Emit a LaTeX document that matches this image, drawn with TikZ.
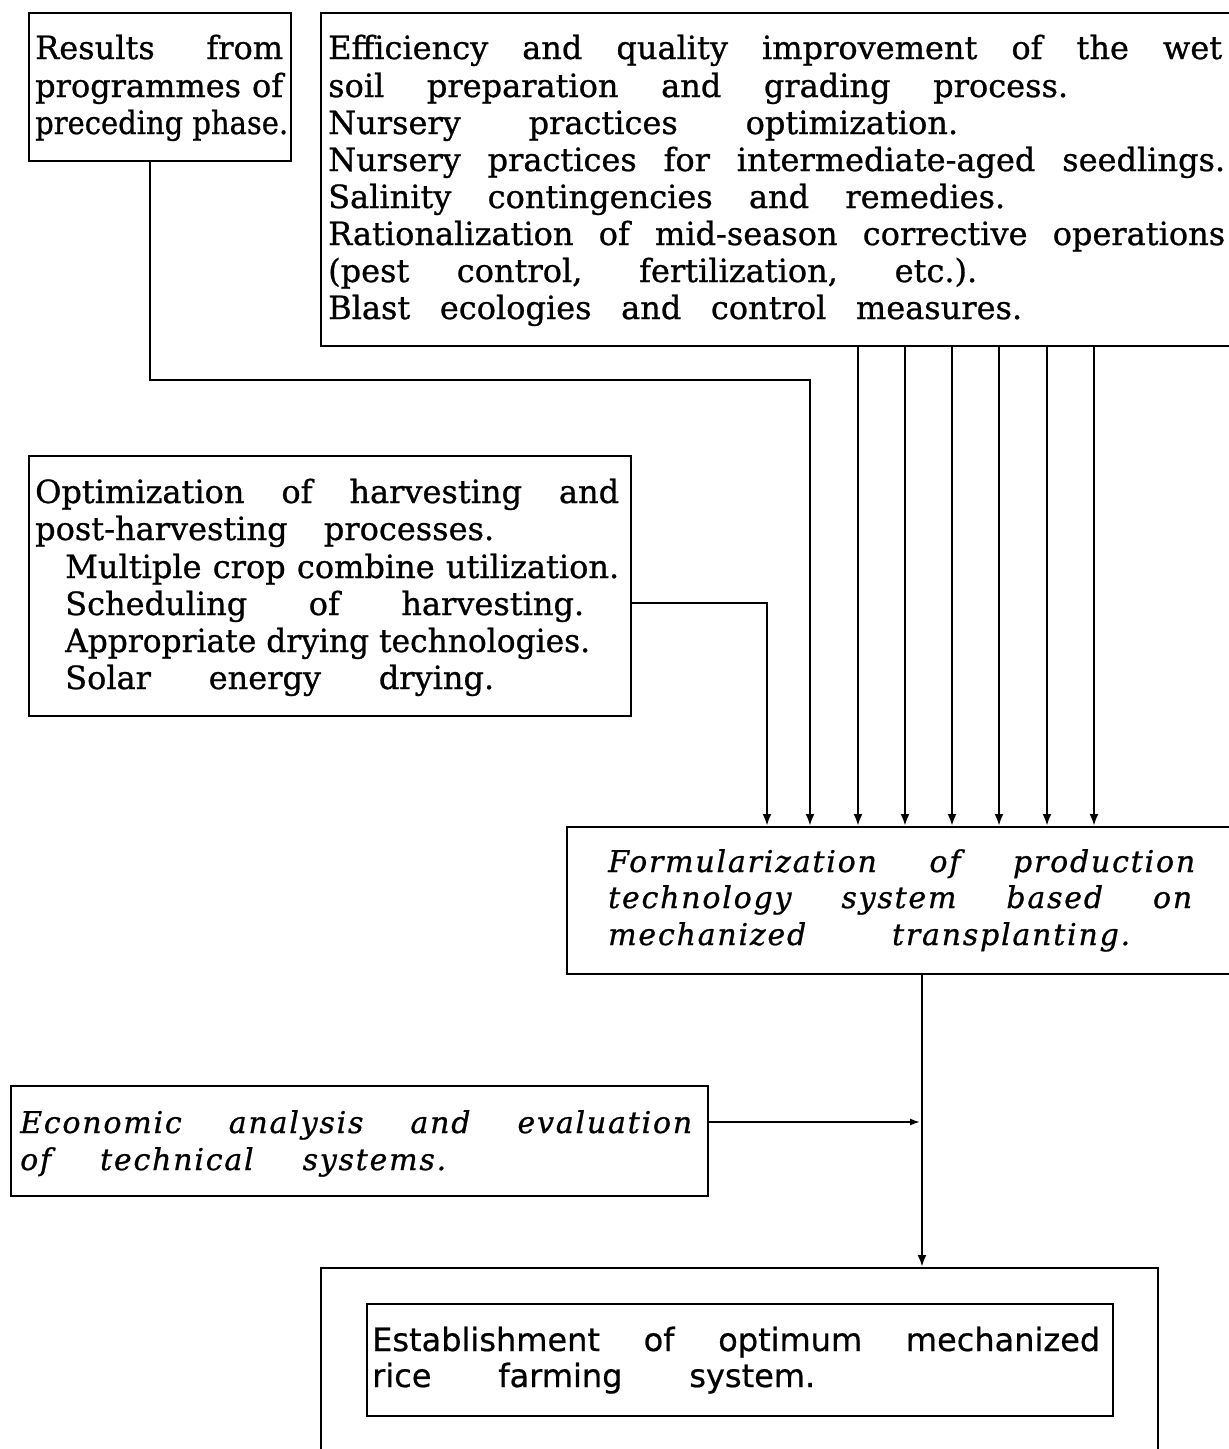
\documentclass[tikz,border=0pt]{standalone}
\usepackage{fontspec}
\setmainfont[FakeBold=0.8]{DejaVu Serif}
\newfontfamily\sansf[FakeBold=0.6]{DejaVu Sans}
\newfontfamily\itf[LetterSpace=6,FakeBold=0.8]{DejaVu Serif Italic}
\usepackage{graphicx}
\usetikzlibrary{arrows.meta}
\newcommand\fl[2]{\setbox0=\hbox{#2}\ifdim\wd0>#1\relax\resizebox{#1}{\height}{#2}\else\makebox[#1][s]{#2}\fi}
\begin{document}
\begin{tikzpicture}[x=1pt,y=-1pt,
  box/.style={draw, line width=2pt, inner sep=0pt, anchor=north west},
  txt/.style={anchor=base west, inner sep=0pt, font=\fontsize{32}{38}\selectfont},
  itxt/.style={txt, font=\fontsize{30}{36}\selectfont\itf},
  stxt/.style={txt, font=\fontsize{32}{38}\selectfont\sansf},
  arr/.style={line width=2.4pt, -{Latex[length=12pt,width=9pt]}},
  ln/.style={line width=1.6pt}]
\useasboundingbox (0,0) rectangle (1229,1449);
\fill[white] (0,0) rectangle (1229,1449);
% boxes
\node[box, minimum width=262pt, minimum height=148pt] (A) at (28,12) {};
\node[box, minimum width=930pt, minimum height=333pt] (B) at (320,12) {};
\node[box, minimum width=602pt, minimum height=260pt] (D) at (28,455) {};
\node[box, minimum width=690pt, minimum height=147pt] (C) at (566,826) {};
\node[box, minimum width=697pt, minimum height=110pt] (F) at (10,1085) {};
\node[box, minimum width=837pt, minimum height=200pt] (E) at (320,1267) {};
\node[box, minimum width=746pt, minimum height=112pt] (E2) at (366,1303) {};
% texts A
\node[txt] (a1) at (35,59) {\fl{248pt}{Results from}};
\node[txt] (a2) at (35,97) {\fl{248pt}{programmes of}};
\node[txt] (a3) at (35,134) {\fl{253pt}{preceding phase.}};
% texts B
\node[txt] (b1) at (328,59) {\fl{894pt}{Efficiency and quality improvement of the wet}};
\node[txt] (b2) at (328,97) {\fl{740pt}{soil preparation and grading process.}};
\node[txt] (b3) at (328,134) {\fl{630pt}{Nursery practices optimization.}};
\node[txt] (b4) at (328,171) {\fl{897pt}{Nursery practices for intermediate-aged seedlings.}};
\node[txt] (b5) at (328,208) {\fl{677pt}{Salinity contingencies and remedies.}};
\node[txt] (b6) at (328,245) {\fl{897pt}{Rationalization of mid-season corrective operations}};
\node[txt] (b7) at (328,282) {\fl{649pt}{(pest control, fertilization, etc.).}};
\node[txt] (b8) at (328,319) {\fl{694pt}{Blast ecologies and control measures.}};
% texts D
\node[txt] (d1) at (35,503) {\fl{584pt}{Optimization of harvesting and}};
\node[txt] (d2) at (35,540) {\fl{459pt}{post-harvesting processes.}};
\node[txt] (d3) at (65,578) {\fl{554pt}{Multiple crop combine utilization.}};
\node[txt] (d4) at (65,615) {\fl{519pt}{Scheduling of harvesting.}};
\node[txt] (d5) at (65,652) {\fl{525pt}{Appropriate drying technologies.}};
\node[txt] (d6) at (65,689) {\fl{429pt}{Solar energy drying.}};
% texts C
\node[itxt] (c1) at (608,872) {\fl{587pt}{Formularization of production}};
\node[itxt] (c2) at (608,908) {\fl{584pt}{technology system based on}};
\node[itxt] (c3) at (608,945) {\fl{522pt}{mechanized transplanting.}};
% texts F
\node[itxt] (f1) at (20,1133) {\fl{672pt}{Economic analysis and evaluation}};
\node[itxt] (f2) at (20,1170) {\fl{426pt}{of technical systems.}};
% texts E
\node[stxt] (e1) at (372,1351) {\fl{728pt}{Establishment of optimum mechanized}};
\node[stxt] (e2) at (372,1387) {\fl{443pt}{rice farming system.}};
% connectors
\coordinate (xA) at (150,0);
\coordinate (bend1) at (810,380);
\draw[arr] (A.south -| xA) |- (bend1) -- (C.north -| bend1);
\foreach \i/\xx in {1/858,2/905,3/952,4/999,5/1047,6/1094}{
  \coordinate (bx\i) at (\xx,0);
  \draw[arr] (B.south -| bx\i) -- (C.north -| bx\i);
}
\coordinate (dy) at (0,603);
\coordinate (xD) at (767,0);
\draw[arr] (D.east |- dy) -| (C.north -| xD);
\coordinate (xm) at (922,0);
\draw[arr] (C.south -| xm) -- (E.north -| xm);
\coordinate (join) at (920,1122);
\draw[ln, -{Latex[length=10pt,width=7pt]}] (F.east |- join) -- (join);
\end{tikzpicture}
\end{document}
